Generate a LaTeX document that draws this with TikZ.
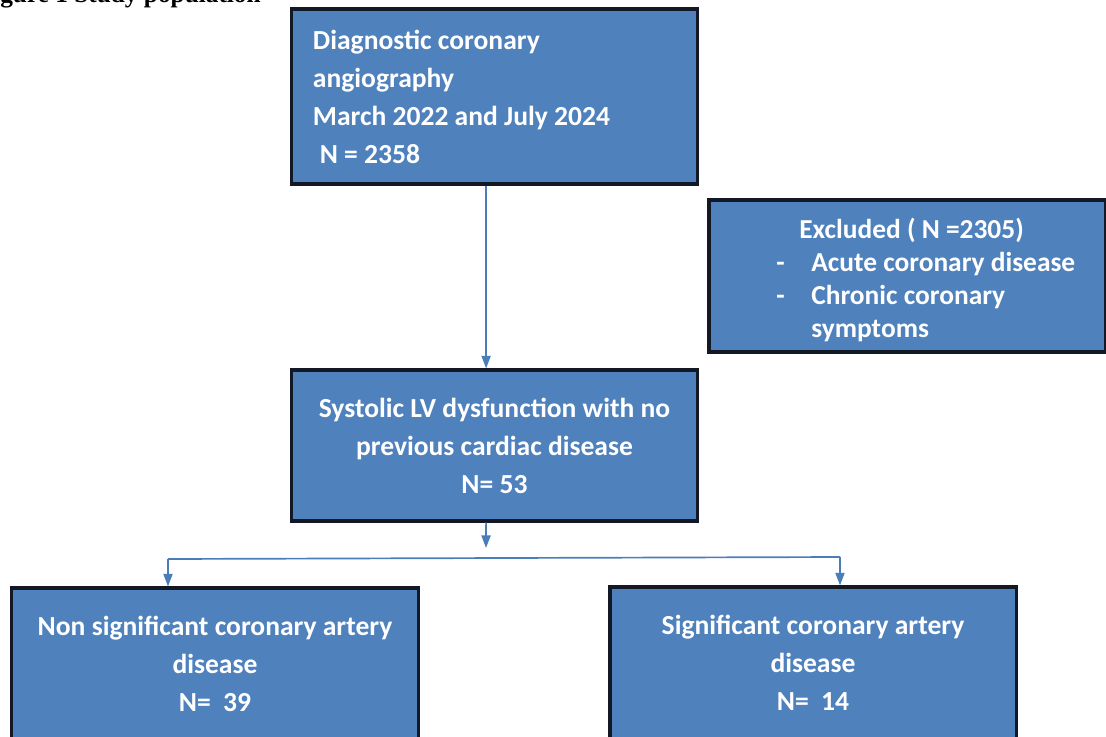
\documentclass[tikz,border=0pt]{standalone}
\usepackage{fontspec}
\setsansfont{Carlito}
\newfontfamily\titlefont{Liberation Serif}
\usepackage{tikz}
\usetikzlibrary{arrows.meta,positioning,calc}

\definecolor{boxblue}{HTML}{4F81BD}
\definecolor{boxedge}{HTML}{121826}
\definecolor{linkblue}{HTML}{4A7EBB}

\tikzset{
  stagebox/.style={rectangle, draw=boxedge, line width=2.2pt, fill=boxblue, text=white,
    font=\sffamily\bfseries\fontsize{19.6}{27}\selectfont, inner sep=0pt},
  flow/.style={draw=linkblue, line width=1.2pt, -{Triangle[length=9pt,width=6.5pt]}},
  link/.style={draw=linkblue, line width=1.2pt}
}

\begin{document}
\begin{tikzpicture}[x=0.025cm, y=-0.025cm]
\useasboundingbox (0,0) rectangle (1106,737);

% Caption (cut at the top)
\node[anchor=base west, inner sep=0pt, font=\titlefont\bfseries\fontsize{18}{20}\selectfont] (title) at (0,2.5) {gure 1 Study population};

% Boxes
\node[stagebox, minimum width=10.125cm, minimum height=4.375cm, align=flush left, text width=9.075cm] (angio) at (494.5,96.5)
  {Diagnostic coronary\\angiography\\March 2022 and July 2024\\\hspace*{0.25em}N = 2358};

\node[stagebox, minimum width=9.9cm, minimum height=3.8cm] (excl) at (907,276) {};
\node[anchor=north west, inner sep=0pt, text=white, align=flush left,
  font=\sffamily\bfseries\fontsize{19.5}{23.5}\selectfont] (excltext) at (776,218)
  {\hspace*{0.575cm}Excluded ( N =2305)\\
   \makebox[0.875cm][l]{-}Acute coronary disease\\
   \makebox[0.875cm][l]{-}Chronic coronary\\
   \hspace*{0.875cm}symptoms};

\node[stagebox, minimum width=10.125cm, minimum height=3.775cm, align=center] (lvd) at (494.5,445.5)
  {Systolic LV dysfunction with no\\previous cardiac disease\\N= 53};

\node[stagebox, minimum width=10.15cm, minimum height=3.8cm, align=center] (nonsig) at (215,664)
  {Non significant coronary artery\\disease\\N=\ \ 39};
\node[stagebox, minimum width=10.15cm, minimum height=3.8cm, align=center] (sig) at (813,663)
  {Significant coronary artery\\disease\\N=\ \ 14};

% Connectors
\coordinate (split) at (486,548);
\coordinate (lbranch) at (168,559);
\coordinate (rbranch) at (840,557);
\draw[flow] ([xshift=-0.21cm]angio.south) -- ([xshift=-0.21cm]lvd.north);
\draw[flow] ([xshift=-0.21cm]lvd.south) -- (split);
\draw[link] (lbranch) -- (rbranch);
\draw[flow] (lbranch) -- (lbranch |- nonsig.north);
\draw[flow] (rbranch) -- (rbranch |- sig.north);
\end{tikzpicture}
\end{document}
